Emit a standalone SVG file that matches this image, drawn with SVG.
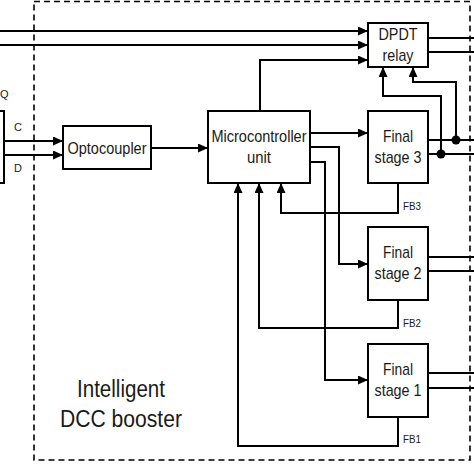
<svg xmlns="http://www.w3.org/2000/svg" width="474" height="474" viewBox="0 0 474 474">
<style>
.box{fill:#fff;stroke:#000;stroke-width:2}
.ln{fill:none;stroke:#000;stroke-width:2}
.ar{fill:none;stroke:#000;stroke-width:2;marker-end:url(#ah)}
.t{font-family:"Liberation Sans",Arial,sans-serif;font-size:17px;text-anchor:middle;fill:#1a1a1a}
.s{font-family:"Liberation Sans",Arial,sans-serif;font-size:11px;fill:#1a1a1a}
.big{font-family:"Liberation Sans",Arial,sans-serif;font-size:23px;text-anchor:middle;fill:#1a1a1a}
</style>
<defs>
<marker id="ah" markerUnits="userSpaceOnUse" markerWidth="10" markerHeight="9" refX="10" refY="4.5" orient="auto">
<path d="M0,0 L10,4.5 L0,9 z" fill="#000"/>
</marker>
</defs>
<rect width="474" height="474" fill="#fff"/>
<rect id="booster" x="34" y="1.5" width="436" height="458.5" fill="none" stroke="#000" stroke-width="1.6" stroke-dasharray="6,4"/>
<text class="big" x="121" y="397" textLength="88" lengthAdjust="spacingAndGlyphs">Intelligent</text>
<text class="big" x="121" y="427" textLength="122" lengthAdjust="spacingAndGlyphs">DCC booster</text>
<g id="connectors">
<path class="ar" d="M0,31 H368"/>
<path class="ar" d="M0,45 H368"/>
<path class="ar" d="M4,141 H63"/>
<path class="ar" d="M4,155 H63"/>
<path class="ar" d="M151,148 H208"/>
<path class="ar" d="M260,111 V60 H368"/>
<path class="ar" d="M310,133 H368"/>
<path class="ar" d="M310,147 H339 V264 H368"/>
<path class="ar" d="M310,162 H325 V380 H368"/>
<path class="ar" d="M398,183 V213 H281 V183"/>
<path class="ar" d="M398,300 V328 H259 V183"/>
<path class="ar" d="M398,417 V446 H238 V183"/>
<path class="ln" d="M428,38 H474 M428,52 H474"/>
<path class="ln" d="M428,140 H474 M428,154 H474"/>
<path class="ln" d="M428,257 H474 M428,271 H474"/>
<path class="ln" d="M428,373 H474 M428,388 H474"/>
<path class="ar" d="M456,140 V82 H413 V67"/>
<path class="ar" d="M441,154 V96 H383 V67"/>
<circle cx="456" cy="140" r="4.5" fill="#000"/>
<circle cx="441" cy="154" r="4.5" fill="#000"/>
</g>
<g id="source">
<rect class="box" x="-10" y="111" width="14" height="72"/>
<text class="s" x="0" y="98">Q</text>
<text class="s" x="18" y="131" text-anchor="middle">C</text>
<text class="s" x="18" y="172" text-anchor="middle">D</text>
</g>
<g id="optocoupler">
<rect class="box" x="63" y="126" width="88" height="43"/>
<text class="t" x="107" y="154" textLength="79" lengthAdjust="spacingAndGlyphs">Optocoupler</text>
</g>
<g id="mcu">
<rect class="box" x="208" y="111" width="102" height="72"/>
<text class="t" x="259" y="142" textLength="95" lengthAdjust="spacingAndGlyphs">Microcontroller</text>
<text class="t" x="259" y="163" textLength="24" lengthAdjust="spacingAndGlyphs">unit</text>
</g>
<g id="relay">
<rect class="box" x="368" y="23" width="60" height="44"/>
<text class="t" x="398" y="40" textLength="39" lengthAdjust="spacingAndGlyphs">DPDT</text>
<text class="t" x="398" y="61" textLength="31" lengthAdjust="spacingAndGlyphs">relay</text>
</g>
<g id="fs3">
<rect class="box" x="368" y="111" width="60" height="72"/>
<text class="t" x="398" y="142" textLength="30" lengthAdjust="spacingAndGlyphs">Final</text>
<text class="t" x="398" y="163" textLength="47" lengthAdjust="spacingAndGlyphs">stage 3</text>
<text class="s" x="403" y="210" textLength="18" lengthAdjust="spacingAndGlyphs">FB3</text>
</g>
<g id="fs2">
<rect class="box" x="368" y="227" width="60" height="73"/>
<text class="t" x="398" y="258" textLength="30" lengthAdjust="spacingAndGlyphs">Final</text>
<text class="t" x="398" y="279" textLength="47" lengthAdjust="spacingAndGlyphs">stage 2</text>
<text class="s" x="403" y="327" textLength="18" lengthAdjust="spacingAndGlyphs">FB2</text>
</g>
<g id="fs1">
<rect class="box" x="368" y="344" width="60" height="73"/>
<text class="t" x="398" y="375" textLength="30" lengthAdjust="spacingAndGlyphs">Final</text>
<text class="t" x="398" y="396" textLength="47" lengthAdjust="spacingAndGlyphs">stage 1</text>
<text class="s" x="403" y="443" textLength="18" lengthAdjust="spacingAndGlyphs">FB1</text>
</g>
</svg>
